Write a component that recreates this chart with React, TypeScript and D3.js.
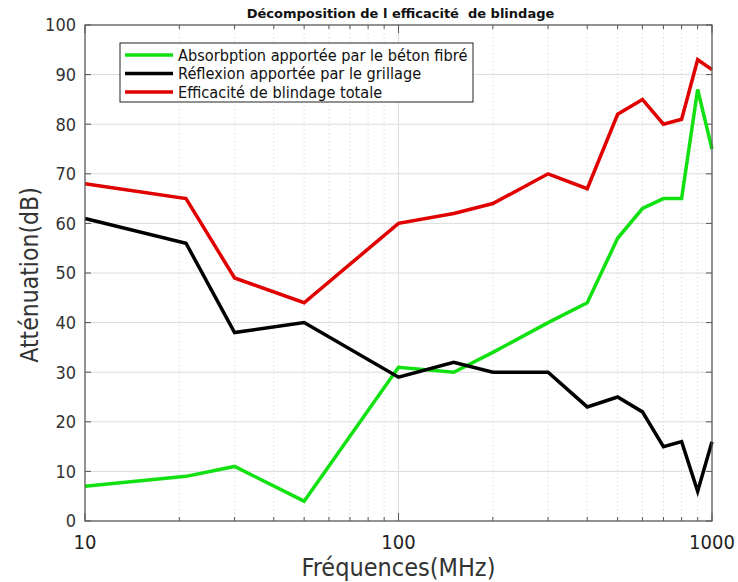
import React from "react";
import * as d3 from "d3";

const freqs = [10, 21, 30, 50, 100, 150, 200, 300, 400, 500, 600, 700, 800, 900, 1000];
const absorption = [7, 9, 11, 4, 31, 30, 34, 40, 44, 57, 63, 65, 65, 87, 75];
const reflexion = [61, 56, 38, 40, 29, 32, 30, 30, 23, 25, 22, 15, 16, 6, 16];
const totale = [68, 65, 49, 44, 60, 62, 64, 70, 67, 82, 85, 80, 81, 93, 91];
const seriesNames = [
  "Absorbption apportée par le béton fibré",
  "Réflexion apportée par le grillage",
  "Efficacité de blindage totale",
];
const seriesColors = ["#11e011", "#000000", "#e00000"];
const yTicks = [0, 10, 20, 30, 40, 50, 60, 70, 80, 90, 100];
const xMajor = [10, 100, 1000];
const xMinor = [20, 30, 40, 50, 60, 70, 80, 90, 200, 300, 400, 500, 600, 700, 800, 900];

const W = 738, H = 582;
const L = 85, R = 712, T = 25, B = 521;
const FONT = "'DejaVu Sans Condensed', 'Liberation Sans Narrow', 'DejaVu Sans', sans-serif";
const FONT_N = "'DejaVu Sans', sans-serif";

export default function App() {
  const x = d3.scaleLog().domain([10, 1000]).range([L, R]);
  const y = d3.scaleLinear().domain([0, 100]).range([B, T]);
  const allSeries = [absorption, reflexion, totale];
  const line = d3.line<number>().x((_, i) => x(freqs[i])).y((d) => y(d));

  return (
    <svg width={W} height={H} style={{ position: "absolute", left: 0, top: 0 }}>
      <rect x={0} y={0} width={W} height={H} fill="#fff" />
      {yTicks.map((t) => (
        <line key={"hg" + t} x1={L} x2={R} y1={y(t)} y2={y(t)} stroke="#dcdcdc" strokeWidth={1} />
      ))}
      {xMinor.map((t) => (
        <line key={"vm" + t} x1={x(t)} x2={x(t)} y1={T} y2={B} stroke="#d0d0d0" strokeWidth={1} strokeDasharray="1,3" />
      ))}
      {xMajor.map((t) => (
        <line key={"vg" + t} x1={x(t)} x2={x(t)} y1={T} y2={B} stroke="#dcdcdc" strokeWidth={1} />
      ))}
      {yTicks.map((t) => (
        <g key={"yt" + t}>
          <line x1={L} x2={L + 6} y1={y(t)} y2={y(t)} stroke="#555" />
          <line x1={R} x2={R - 6} y1={y(t)} y2={y(t)} stroke="#555" />
          <text x={L - 9} y={y(t)} dy="0.35em" textAnchor="end" fontFamily={FONT} fontSize={18} fill="#333">
            {t}
          </text>
        </g>
      ))}
      {xMinor.map((t) => (
        <g key={"xt" + t}>
          <line x1={x(t)} x2={x(t)} y1={B} y2={B - 4} stroke="#555" />
          <line x1={x(t)} x2={x(t)} y1={T} y2={T + 4} stroke="#555" />
        </g>
      ))}
      {xMajor.map((t) => (
        <g key={"xM" + t}>
          <line x1={x(t)} x2={x(t)} y1={B} y2={B - 8} stroke="#555" />
          <line x1={x(t)} x2={x(t)} y1={T} y2={T + 8} stroke="#555" />
          <text x={x(t)} y={B + 28} textAnchor="middle" fontFamily={FONT} fontSize={20} fill="#222">
            {t}
          </text>
        </g>
      ))}
      {allSeries.map((s, i) => (
        <path key={"s" + i} d={line(s) || ""} fill="none" stroke={seriesColors[i]} strokeWidth={3.5} strokeLinejoin="miter" />
      ))}
      <rect x={L} y={T} width={R - L} height={B - T} fill="none" stroke="#555" strokeWidth={1.2} />
      <rect x={120} y={43} width={353} height={59} fill="#fff" stroke="#222" strokeWidth={1} />
      {seriesNames.map((n, i) => (
        <g key={"lg" + i}>
          <line x1={125} x2={173} y1={55 + i * 18.5} y2={55 + i * 18.5} stroke={seriesColors[i]} strokeWidth={3.5} />
          <text x={178} y={55 + i * 18.5} dy="0.35em" fontFamily={FONT} fontSize={16.2} fill="#111">
            {n}
          </text>
        </g>
      ))}
      <text x={(L + R) / 2 + 2} y={18} textAnchor="middle" fontFamily={FONT_N} fontWeight="bold" fontSize={13} fill="#111" style={{ whiteSpace: "pre" }}>
        {"Décomposition de l efficacité  de blindage"}
      </text>
      <text x={(L + R) / 2} y={576} textAnchor="middle" fontFamily={FONT} fontSize={25} fill="#333">
        Fréquences(MHz)
      </text>
      <text transform={`translate(38, ${275}) rotate(-90)`} textAnchor="middle" fontFamily={FONT} fontSize={24.5} fill="#333">
        Atténuation(dB)
      </text>
    </svg>
  );
}
